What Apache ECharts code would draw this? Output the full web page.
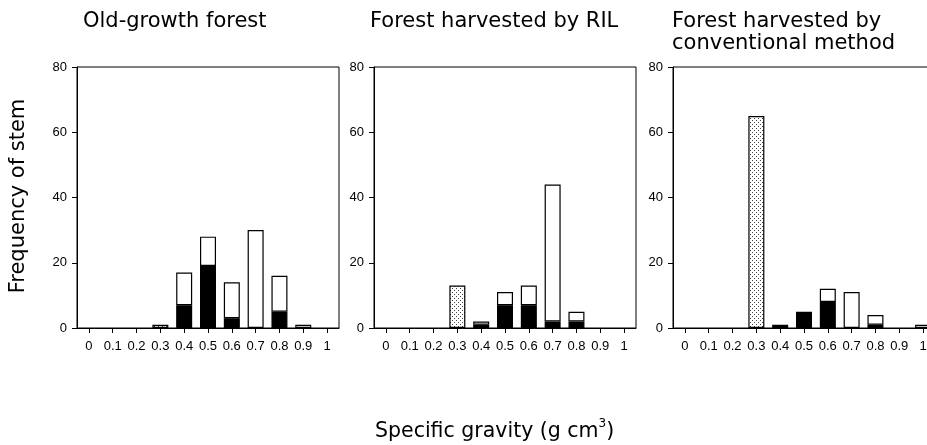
<!DOCTYPE html>
<html>
<head>
<meta charset="utf-8">
<script src="https://cdn.jsdelivr.net/npm/echarts@6/dist/echarts.min.js"></script>
<style>
html,body{margin:0;padding:0;background:#fff;}
#chart{width:927px;height:445px;}
</style>
</head>
<body>
<div id="chart"></div>
<script>
// ---- data ----
const categories = ['0','0.1','0.2','0.3','0.4','0.5','0.6','0.7','0.8','0.9','1'];
const panelTitles = ['Old-growth forest', 'Forest harvested by RIL', 'Forest harvested by\nconventional method'];
const yTicks = [0, 20, 40, 60, 80];

// stippled bars
const oldStipple  = [0,0,0,1,0,0,0,0,0,0,0];
const rilStipple  = [0,0,0,13,0,0,0,0,0,0,0];
const convStipple = [0,0,0,65,0,0,0,0,0,0,0];
// black (lower) segments
const oldBlack  = [0,0,0,0,7,19,3,0,5,0,0];
const rilBlack  = [0,0,0,0,1,7,7,2,2,0,0];
const convBlack = [0,0,0,0,1,5,8,0,1,0,0];
// white (upper) segments
const oldWhite  = [0,0,0,0,10,9,11,30,11,1,0];
const rilWhite  = [0,0,0,0,1,4,6,42,3,0,0];
const convWhite = [0,0,0,0,0,0,4,11,3,0,1];

const xAxisName = 'Specific gravity (g cm';
const xAxisSup = '3';
const yAxisName = 'Frequency of stem';

// ---- stipple pattern ----
const pc = document.createElement('canvas');
pc.width = 4; pc.height = 4;
const pctx = pc.getContext('2d');
pctx.fillStyle = '#ffffff'; pctx.fillRect(0,0,4,4);
pctx.fillStyle = '#444444';
pctx.fillRect(0,0,1,1); pctx.fillRect(2,2,1,1);
const stipplePattern = {image: pc, repeat: 'repeat'};

const panels = [
  {stipple: oldStipple, black: oldBlack, white: oldWhite, left: 77},
  {stipple: rilStipple, black: rilBlack, white: rilWhite, left: 374},
  {stipple: convStipple, black: convBlack, white: convWhite, left: 673}
];
const titleLefts = [83, 370, 672];

const nz = arr => arr.map(v => v === 0 ? null : v);

const grids = [], xAxes = [], yAxes = [], series = [], titles = [];
panels.forEach((p, i) => {
  grids.push({left: p.left, top: 67, width: 262, height: 261, show: true,
    borderColor: '#000', borderWidth: 1, backgroundColor: 'transparent',
    containLabel: false, outerBoundsMode: 'none'});
  xAxes.push({type: 'category', gridIndex: i, data: categories, boundaryGap: true,
    axisLine: {show: true, lineStyle: {color: '#000', width: 1}},
    axisTick: {show: true, alignWithLabel: true, length: 5, lineStyle: {color: '#000'}},
    axisLabel: {interval: 0, color: '#000', fontSize: 13, fontFamily: 'Liberation Sans', margin: 12, hideOverlap: false},
    splitLine: {show: false}});
  yAxes.push({type: 'value', gridIndex: i, min: yTicks[0], max: yTicks[yTicks.length-1], interval: 20,
    axisLine: {show: true, lineStyle: {color: '#000', width: 1}},
    axisTick: {show: true, length: 5, lineStyle: {color: '#000'}},
    axisLabel: {color: '#000', fontSize: 13, fontFamily: 'Liberation Sans', margin: 10},
    splitLine: {show: false}});
  const common = {type: 'bar', xAxisIndex: i, yAxisIndex: i, stack: 'p' + i, barWidth: 16,
    animation: false};
  series.push(Object.assign({}, common, {name: 'stipple' + i, data: nz(p.stipple),
    itemStyle: {color: stipplePattern, borderColor: '#000', borderWidth: 1.2}}));
  series.push(Object.assign({}, common, {name: 'black' + i, data: nz(p.black),
    itemStyle: {color: '#000', borderColor: '#000', borderWidth: 1.2}}));
  series.push(Object.assign({}, common, {name: 'white' + i, data: nz(p.white),
    itemStyle: {color: '#fff', borderColor: '#000', borderWidth: 1.2}}));
  titles.push({text: panelTitles[i], left: titleLefts[i], top: 11, padding: 0,
    textStyle: {fontFamily: 'DejaVu Sans', fontSize: 21, fontWeight: 'normal', color: '#000', lineHeight: 22}});
});

const chart = echarts.init(document.getElementById('chart'), null, {renderer: 'canvas'});
chart.setOption({
  backgroundColor: '#fff',
  animation: false,
  title: titles,
  grid: grids,
  xAxis: xAxes,
  yAxis: yAxes,
  series: series,
  graphic: [
    {type: 'text', x: 19, y: 196, rotation: Math.PI / 2,
      style: {text: yAxisName, fontFamily: 'DejaVu Sans', fontSize: 21, fill: '#000',
        align: 'center', verticalAlign: 'middle'}},
    {type: 'text', left: 375, top: 418,
      style: {text: '{n|' + xAxisName + '}{s|' + xAxisSup + '}{n|)}',
        rich: {n: {fontFamily: 'DejaVu Sans', fontSize: 20.5, fill: '#000', color: '#000', verticalAlign: 'bottom', lineHeight: 24},
               s: {fontFamily: 'DejaVu Sans', fontSize: 12, fill: '#000', color: '#000', verticalAlign: 'top', lineHeight: 24}}}}
  ]
});
</script>
</body>
</html>
